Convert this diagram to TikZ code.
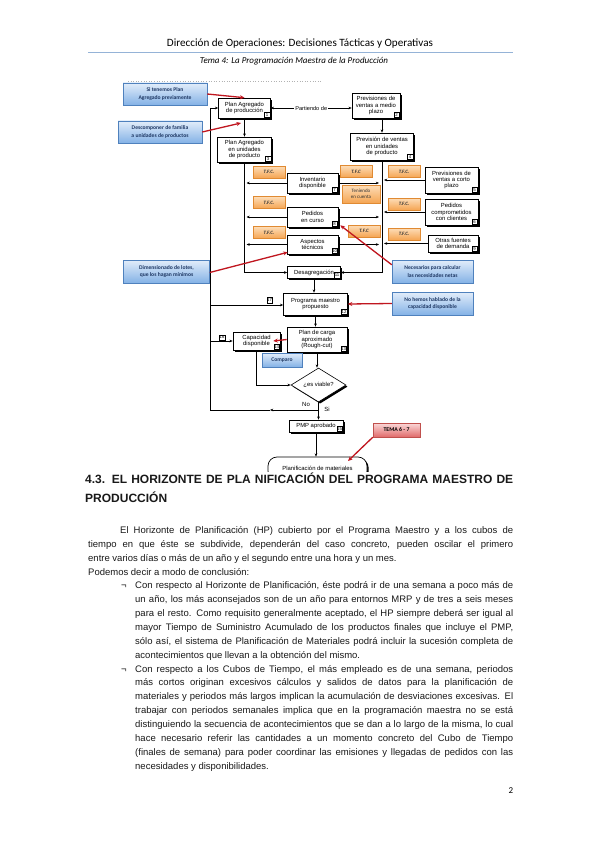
\documentclass[tikz,border=0pt]{standalone}
\usepackage{fontspec}
\setmainfont{Liberation Sans}
\newfontfamily\calfont{Carlito}
\usetikzlibrary{arrows.meta,shapes.geometric,shadows,calc}
\definecolor{hdrline}{HTML}{95B3D7}
\definecolor{bluetop}{HTML}{E2EDFA}
\definecolor{bluebot}{HTML}{84B2E6}
\definecolor{blueedge}{HTML}{4F81BD}
\definecolor{bluetext}{HTML}{1F3864}
\definecolor{orgtop}{HTML}{FDDDB8}
\definecolor{orgbot}{HTML}{F5A552}
\definecolor{orgedge}{HTML}{E08A32}
\definecolor{redtop}{HTML}{FBD9D9}
\definecolor{redbot}{HTML}{E06A6A}
\definecolor{rededge}{HTML}{C0504D}
\definecolor{redarrow}{HTML}{C0161F}
\newcommand\boxnum[2]{\node[num, anchor=south east] (n#1) at ([xshift=-0.7pt,yshift=0.7pt]#1.south east) {#2};}
\begin{document}
\begin{tikzpicture}[x=1pt,y=-1pt,
  proc/.style={draw, line width=0.6pt, fill=white, align=center, inner sep=0.5pt,
    font=\fontsize{5.9}{6.4}\selectfont,
    drop shadow={shadow xshift=1.6pt, shadow yshift=-1.6pt, fill=black, opacity=1}},
  num/.style={draw, line width=0.4pt, fill=white, inner sep=0.4pt, minimum size=5.5pt,
    font=\fontsize{4.3}{4.3}\selectfont},
  bluebox/.style={draw=blueedge, line width=0.5pt, top color=bluetop, bottom color=bluebot,
    align=center, inner sep=0.5pt, text=bluetext,
    font=\calfont\bfseries\fontsize{5.6}{7.2}\selectfont,
    drop shadow={shadow xshift=0.8pt, shadow yshift=-0.8pt, fill=black!40, opacity=0.5}},
  tfc/.style={draw=orgedge, line width=0.4pt, top color=orgtop, bottom color=orgbot,
    align=center, inner sep=0.5pt, text=black!80, minimum width=32pt, minimum height=12pt,
    font=\calfont\bfseries\itshape\fontsize{5}{6}\selectfont,
    drop shadow={shadow xshift=0.6pt, shadow yshift=-0.6pt, fill=black!40, opacity=0.4}},
  redbox/.style={draw=rededge, line width=0.5pt, top color=redtop, bottom color=redbot,
    align=center, inner sep=0.5pt, text=black,
    font=\calfont\bfseries\fontsize{5.8}{6.5}\selectfont,
    drop shadow={shadow xshift=0.8pt, shadow yshift=-0.8pt, fill=black!40, opacity=0.5}},
  arr/.style={line width=0.5pt, -{Stealth[length=3.2pt,width=2.6pt]}},
  ln/.style={line width=0.5pt},
  redarr/.style={draw=redarrow, line width=1.3pt, -{Stealth[length=4.5pt,width=4pt]}},
  lbl/.style={inner sep=0.5pt, font=\fontsize{6}{6.5}\selectfont},
  txt/.style={anchor=base west, inner sep=0pt, text=black!90, font=\fontsize{9.5}{11}\selectfont},
  hd/.style={anchor=base west, inner sep=0pt, text=black!90, font=\bfseries\fontsize{12}{14}\selectfont}
]
\fill[white] (0,0) rectangle (599,848);
\useasboundingbox (0,0) rectangle (599,848);

% ---------- header ----------
\node[inner sep=0pt, font=\calfont\fontsize{10}{12}\selectfont] (hdr) at (300,44)
  {\resizebox{266pt}{!}{Dirección de Operaciones: Decisiones Tácticas y Operativas}};
\coordinate (hl1) at (88,52.5);
\coordinate (hl2) at (513,52.5);
\draw[hdrline, line width=1pt] (hl1) -- (hl2);
\node[inner sep=0pt, font=\calfont\itshape\fontsize{9}{11}\selectfont] (sub) at (294,61.5)
  {Tema 4: La Programación Maestra de la Producción};

% ---------- faint top line ----------
\coordinate (tl1) at (128,81);
\coordinate (tl2) at (322,81);
\draw[black!30, dotted, line width=0.6pt] (tl1) -- (tl2);

% ---------- process boxes ----------
\node[proc, minimum width=52pt, minimum height=20pt] (pa) at (244.5,108) {Plan Agregado\\de producción};
\node[proc, minimum width=48pt, minimum height=25pt] (pv) at (376,105.5) {Previsiones de\\ventas a medio\\plazo};
\node[proc, minimum width=54pt, minimum height=25pt] (pau) at (244.5,149.5) {Plan Agregado\\en unidades\\de producto};
\node[proc, minimum width=63pt, minimum height=27pt] (pvu) at (382,146.5) {Previsión de ventas\\en unidades\\de producto};
\node[proc, minimum width=51pt, minimum height=20pt] (inv) at (312.5,183) {Inventario\\disponible};
\node[proc, minimum width=51pt, minimum height=20pt] (pec) at (312.5,217) {Pedidos\\en curso};
\node[proc, minimum width=51pt, minimum height=19pt] (ast) at (312.5,244.5) {Aspectos\\técnicos};
\node[proc, minimum width=53pt, minimum height=26pt] (pvc) at (451.5,180) {Previsiones de\\ventas a corto\\plazo};
\node[proc, minimum width=53pt, minimum height=26pt] (pcc) at (451.5,212) {Pedidos\\comprometidos\\con clientes};
\node[proc, minimum width=50pt, minimum height=17pt] (ofd) at (453,243.5) {Otras fuentes\\de demanda};
\node[proc, minimum width=53pt, minimum height=12pt] (des) at (314,272.5) {Desagregación};
\node[proc, minimum width=64pt, minimum height=22pt] (pmp) at (315.5,304) {Programa maestro\\propuesto};
\node[proc, minimum width=60pt, minimum height=25pt] (pca) at (317,339.5) {Plan de carga\\aproximado\\(Rough-cut)};
\node[proc, minimum width=47pt, minimum height=18pt] (cap) at (256.5,341) {Capacidad\\disponible};
\node[proc, shape=diamond, inner sep=0pt, minimum width=55pt, minimum height=34pt, aspect=1.6] (dv) at (318.5,385) {¿es viable?};
\node[proc, minimum width=54pt, minimum height=12pt] (pmpa) at (316,426) {PMP aprobado};
\begin{scope}
  \clip (250,440) rectangle (400,471.5);
  \node[proc, rounded corners=9pt, line width=0.7pt, minimum width=99pt, minimum height=23pt] (planmat) at (317.5,468.5) {Planificación de materiales};
\end{scope}

\boxnum{pa}{1}
\boxnum{pv}{2}
\boxnum{pau}{3}
\boxnum{pvu}{4}
\boxnum{pvc}{5}
\boxnum{pcc}{6}
\boxnum{inv}{7}
\boxnum{pec}{8}
\boxnum{ofd}{9}
\boxnum{ast}{10}
\boxnum{des}{11}
\boxnum{pmp}{12}
\boxnum{pca}{13}
\boxnum{cap}{14}
\boxnum{pmpa}{15}
\node[num] (n17) at (269.5,300) {17};
\node[num] (n16) at (222,337.5) {16};

% ---------- orange boxes ----------
\node[tfc] (t1) at (269,172) {T.F.C.};
\node[tfc] (t2) at (269,202.5) {T.F.C.};
\node[tfc] (t3) at (269,232.5) {T.F.C.};
\node[tfc] (t4) at (356,171.5) {T.F.C};
\node[tfc, minimum width=38pt, minimum height=18pt, font=\calfont\fontsize{5}{6.2}\selectfont] (tc) at (361,194) {Teniendo\\en cuenta};
\node[tfc] (t5) at (364,231) {T.F.C};
\node[tfc] (t6) at (404,171.5) {T.F.C.};
\node[tfc] (t7) at (404,204) {T.F.C.};
\node[tfc] (t8) at (404,234) {T.F.C.};

% ---------- blue / red notes ----------
\node[bluebox, minimum width=84pt, minimum height=22pt] (b1) at (165,94) {Si tenemos Plan\\Agregado previamente};
\node[bluebox, minimum width=84pt, minimum height=22pt] (b2) at (160,132) {Descomponer de familia\\a unidades de productos};
\node[bluebox, minimum width=86pt, minimum height=23pt] (b3) at (166.5,271.5) {Dimensionado de lotes,\\que los hagan mínimos};
\node[bluebox, minimum width=81pt, minimum height=23pt] (b4) at (432.5,271.5) {Necesarios para calcular\\las necesidades netas};
\node[bluebox, minimum width=81pt, minimum height=23pt] (b5) at (432.5,303.5) {No hemos hablado de la\\capacidad disponible};
\node[bluebox, minimum width=40pt, minimum height=14pt] (b6) at (282,360) {Comparo};
\node[redbox, minimum width=47pt, minimum height=14pt] (tema) at (396.5,430) {TEMA 6 - 7};

% ---------- connectors ----------
\coordinate (Ltop) at (210,108);
\coordinate (Lbot) at (210,410);
\coordinate (L1) at (210,305);
\coordinate (L2) at (210,341);
\coordinate (dn) at (318.5,410);
\coordinate (Lmid) at (270,410);
\draw[arr] (Ltop) -- (pa.west);
\draw[ln] (Ltop) -- (Lbot);
\draw[arr] (L1) -- (L1 -| pmp.west);
\draw[arr] (L2) -- (cap.west);
\draw[arr] (dn) -- (Lmid);
\draw[ln] (Lmid) -- (Lbot);

\draw[{Stealth[length=3.2pt,width=2.6pt]}-{Stealth[length=3.2pt,width=2.6pt]}, line width=0.5pt]
  (pa.east) -- node[fill=white, inner sep=1pt, font=\fontsize{5.6}{6}\selectfont] (part) {Partiendo de} (pa.east -| pv.west);
\draw[arr] (pa.south) -- (pau.north);
\draw[arr] (pvu.north |- pv.south) -- (pvu.north);

\coordinate (Rc) at (382,272.5);
\draw[arr] (pvu.south) -- (Rc) -- (des.east);
\draw[arr] (pau.south) -- (pau.south |- des.west) -- (des.west);

\foreach \b in {inv,pec,ast}{
  \draw[arr, shorten >=2pt] (\b.west) -- (\b.west -| pau.south);
  \draw[arr, shorten >=3pt] (\b.east) -- (\b.east -| pvu.south);
}
\foreach \b in {pvc,pcc,ofd}{
  \draw[arr, shorten >=2pt] (\b.west) -- (\b.west -| pvu.south);
}

\draw[arr] (des.south) -- (des.south |- pmp.north);
\draw[arr] (pmp.south) -- (pmp.south |- pca.north);
\draw[arr] (pca.south) -- (pca.south |- dv.north);
\draw[arr] (cap.south) -- (cap.south |- dv.west) -- (dv.west);
\draw[arr] (dv.south) -- (dv.south |- pmpa.north);
\draw[arr] (pmpa.south) -- (pmpa.south |- planmat.north);

\node[lbl] (no) at (306,404.5) {No};
\node[lbl] (si) at (327,409) {Si};

% ---------- red arrows ----------
\coordinate (rt2) at (241,123);
\coordinate (rt7) at (348,461);
\draw[redarr] (b1.east) -- (pa.north);
\draw[redarr] (b2.east) -- (rt2);
\draw[redarr] ([yshift=-1pt]b3.east) -- ([xshift=1pt,yshift=2pt]ast.south west);
\draw[redarr] ([yshift=-5pt]b4.north west) -- ([xshift=2pt,yshift=2pt]pec.south east);
\draw[redarr] (b5.west) -- (pmp.east);
\draw[redarr] (pca.west) -- ([xshift=-7pt]cap.east);
\draw[redarr] (tema.south west) -- (rt7);

% ---------- body text ----------
\node[hd] (h1) at (85,483) {\makebox[428pt][s]{4.3. EL HORIZONTE DE PLA NIFICACIÓN DEL PROGRAMA MAESTRO DE}};
\node[hd] (h2) at (85,502) {PRODUCCIÓN};

\node[txt] (p1) at (120,533.5) {\makebox[393pt][s]{El Horizonte de Planificación (HP) cubierto por el Programa Maestro y a los cubos de}};
\node[txt] (p2) at (88,547.4) {\makebox[425pt][s]{tiempo en que éste se subdivide, dependerán del caso concreto, pueden oscilar el primero}};
\node[txt] (p3) at (88,561.2) {entre varios días o más de un año y el segundo entre una hora y un mes.};
\node[txt] (p4) at (88,575.1) {Podemos decir a modo de conclusión:};

\node[txt] (bu1) at (121,588.9) {¬};
\node[txt] (a1) at (135,588.9) {\makebox[378pt][s]{Con respecto al Horizonte de Planificación, éste podrá ir de una semana a poco más de}};
\node[txt] (a2) at (135,602.8) {\makebox[378pt][s]{un año, los más aconsejados son de un año para entornos MRP y de tres a seis meses}};
\node[txt] (a3) at (135,616.6) {\makebox[378pt][s]{para el resto. Como requisito generalmente aceptado, el HP siempre deberá ser igual al}};
\node[txt] (a4) at (135,630.5) {\makebox[378pt][s]{mayor Tiempo de Suministro Acumulado de los productos finales que incluye el PMP,}};
\node[txt] (a5) at (135,644.3) {\makebox[378pt][s]{sólo así, el sistema de Planificación de Materiales podrá incluir la sucesión completa de}};
\node[txt] (a6) at (135,658.2) {acontecimientos que llevan a la obtención del mismo.};

\node[txt] (bu2) at (121,672.0) {¬};
\node[txt] (c1) at (135,672.0) {\makebox[378pt][s]{Con respecto a los Cubos de Tiempo, el más empleado es de una semana, periodos}};
\node[txt] (c2) at (135,685.9) {\makebox[378pt][s]{más cortos originan excesivos cálculos y salidos de datos para la planificación de}};
\node[txt] (c3) at (135,699.7) {\makebox[378pt][s]{materiales y periodos más largos implican la acumulación de desviaciones excesivas. El}};
\node[txt] (c4) at (135,713.6) {\makebox[378pt][s]{trabajar con periodos semanales implica que en la programación maestra no se está}};
\node[txt] (c5) at (135,727.4) {\makebox[378pt][s]{distinguiendo la secuencia de acontecimientos que se dan a lo largo de la misma, lo cual}};
\node[txt] (c6) at (135,741.3) {\makebox[378pt][s]{hace necesario referir las cantidades a un momento concreto del Cubo de Tiempo}};
\node[txt] (c7) at (135,755.1) {\makebox[378pt][s]{(finales de semana) para poder coordinar las emisiones y llegadas de pedidos con las}};
\node[txt] (c8) at (135,769.0) {necesidades y disponibilidades.};

\node[inner sep=0pt, font=\calfont\fontsize{9}{11}\selectfont] (pg) at (511,791) {2};
\end{tikzpicture}
\end{document}
